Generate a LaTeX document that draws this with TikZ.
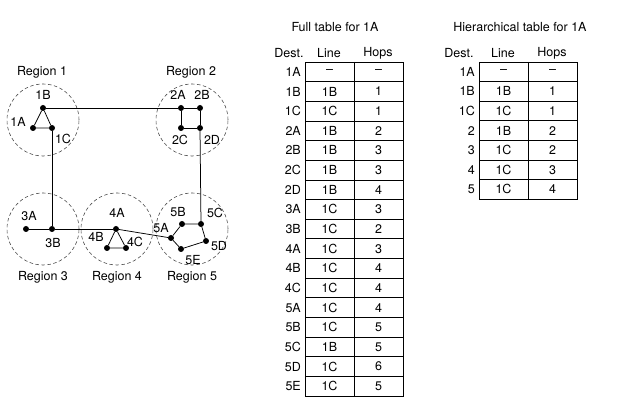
\documentclass[tikz,border=0pt]{standalone}
\usepackage{fontspec}
\setmainfont{TeX Gyre Heros}
\begin{document}
\begin{tikzpicture}[x=1pt,y=-1pt,font=\fontsize{12.5}{14}\selectfont,
  dot/.style={circle,fill=black,inner sep=0pt,minimum size=6pt},
  lbl/.style={inner sep=0pt},
  region/.style={circle,draw=black!70,dash pattern=on 3.5pt off 2.5pt,line width=0.6pt,minimum size=72pt,inner sep=0pt},
  link/.style={line width=0.75pt},
  tline/.style={line width=0.75pt},
  cell/.style={inner sep=0pt}]
\path[use as bounding box] (0,0) rectangle (625,419);
% regions
\node[region] (r1) at (43,120) {};
\node[region] (r2) at (192,120) {};
\node[region] (r3) at (43,229) {};
\node[region] (r4) at (117,229) {};
\node[region] (r5) at (192,229) {};
\node[lbl] (rl1) at (42,72) {Region 1};
\node[lbl] (rl2) at (191,72) {Region 2};
\node[lbl] (rl3) at (43,277) {Region 3};
\node[lbl] (rl4) at (117,277) {Region 4};
\node[lbl] (rl5) at (192,277) {Region 5};
% routers
\node[dot] (1A) at (33,128) {};
\node[dot] (1B) at (43,108) {};
\node[dot] (1C) at (52,128) {};
\node[dot] (2A) at (181,108) {};
\node[dot] (2B) at (200,108) {};
\node[dot] (2C) at (181,128) {};
\node[dot] (2D) at (200,128) {};
\node[dot] (3A) at (26,229) {};
\node[dot] (3B) at (52,229) {};
\node[dot] (4A) at (116,229) {};
\node[dot] (4B) at (107,248) {};
\node[dot] (4C) at (126,248) {};
\node[dot] (5A) at (171,238) {};
\node[dot] (5B) at (182,224) {};
\node[dot] (5C) at (201,224) {};
\node[dot] (5D) at (206,241) {};
\node[dot] (5E) at (181,249) {};
% router labels
\node[lbl] (l1A) at (18,122) {1A};
\node[lbl] (l1B) at (43,95) {1B};
\node[lbl] (l1C) at (63,139) {1C};
\node[lbl] (l2A) at (178,95) {2A};
\node[lbl] (l2B) at (202,95) {2B};
\node[lbl] (l2C) at (180,140) {2C};
\node[lbl] (l2D) at (212,140) {2D};
\node[lbl] (l3A) at (29,216) {3A};
\node[lbl] (l3B) at (53,243) {3B};
\node[lbl] (l4A) at (117,213) {4A};
\node[lbl] (l4B) at (96,237) {4B};
\node[lbl] (l4C) at (135,242) {4C};
\node[lbl] (l5A) at (161,228) {5A};
\node[lbl] (l5B) at (178,212) {5B};
\node[lbl] (l5C) at (215,213) {5C};
\node[lbl] (l5D) at (219,246) {5D};
\node[lbl] (l5E) at (193,260) {5E};
% links
\draw[link] (1A) -- (1B) -- (1C) -- (1A);
\draw[link] (2A) -- (2B) -- (2D) -- (2C) -- (2A);
\draw[link] (1B) -- (2A);
\draw[link] (1C) -- (3B);
\draw[link] (2D) -- (5C);
\draw[link] (3A) -- (3B) -- (4A);
\draw[link] (4A) -- (4B) -- (4C) -- (4A);
\draw[link] (4A) -- (5A);
\draw[link] (5A) -- (5B) -- (5C) -- (5D) -- (5E) -- (5A);
% full table
\node[lbl] (ft) at (335,27) {Full table for 1A};
\node[lbl] (fhd) at (289,53) {Dest.};
\node[lbl] (fhl) at (329,53) {Line};
\node[lbl] (fhh) at (378,53) {Hops};
\foreach \d/\l/\h [count=\i] in {1A/\textendash/\textendash,1B/1B/1,1C/1C/1,2A/1B/2,2B/1B/3,2C/1B/3,2D/1B/4,3A/1C/3,3B/1C/2,4A/1C/3,4B/1C/4,4C/1C/4,5A/1C/4,5B/1C/5,5C/1B/5,5D/1C/6,5E/1C/5}{
  \pgfmathsetmacro{\yy}{62+19.65*(\i-0.5)}
  \node[cell,anchor=east] (fd\i) at (301,\yy) {\d};
  \node[cell] (fl\i) at (329.5,\yy) {\l};
  \node[cell] (fh\i) at (378.5,\yy) {\h};
}
\draw[tline] (305,62) rectangle (403,396);
\draw[tline] (354,62) -- (354,396);
\foreach \i in {1,...,16}{
  \draw[tline] (305,62+19.65*\i) -- (403,62+19.65*\i);
}
% hierarchical table
\node[lbl] (ht) at (520,27) {Hierarchical table for 1A};
\node[lbl] (hhd) at (459,53) {Dest.};
\node[lbl] (hhl) at (503,53) {Line};
\node[lbl] (hhh) at (552,53) {Hops};
\foreach \d/\l/\h [count=\i] in {1A/\textendash/\textendash,1B/1B/1,1C/1C/1,2/1B/2,3/1C/2,4/1C/3,5/1C/4}{
  \pgfmathsetmacro{\yy}{62+19.6*(\i-0.5)}
  \node[cell,anchor=east] (hd\i) at (475,\yy) {\d};
  \node[cell] (hl\i) at (503.5,\yy) {\l};
  \node[cell] (hh\i) at (552.5,\yy) {\h};
}
\draw[tline] (479,62) rectangle (577,199.2);
\draw[tline] (528,62) -- (528,199.2);
\foreach \i in {1,...,6}{
  \draw[tline] (479,62+19.6*\i) -- (577,62+19.6*\i);
}
\end{tikzpicture}
\end{document}
